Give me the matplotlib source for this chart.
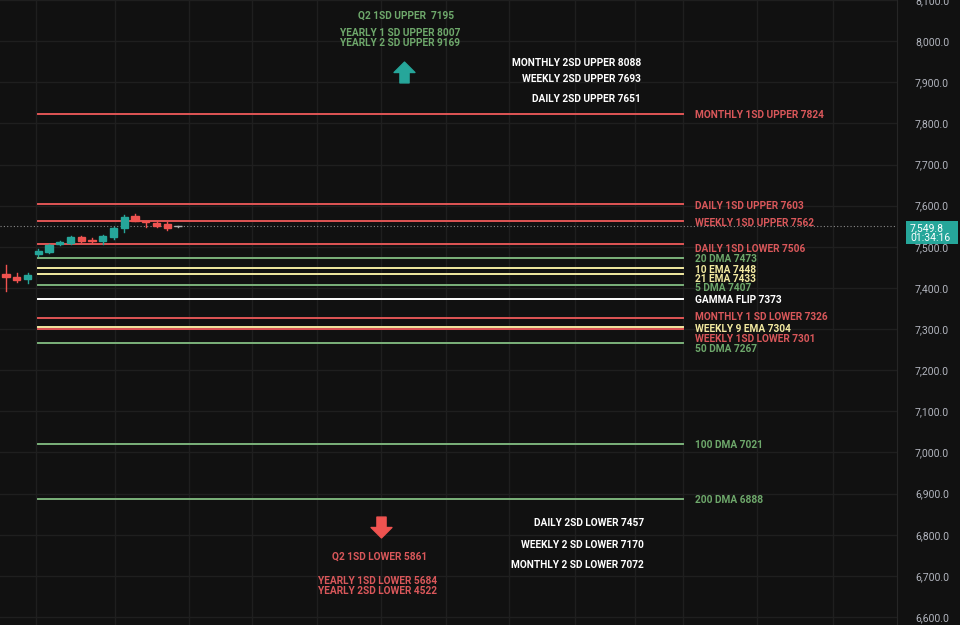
import matplotlib
matplotlib.use("Agg")
import matplotlib.pyplot as plt
from matplotlib.path import Path
from matplotlib.patches import Rectangle
from matplotlib.ticker import FuncFormatter

# candles (open, high, low, close)
opens = [7434, 7427, 7421, 7482, 7488, 7506, 7510, 7524, 7516, 7514, 7524, 7545, 7575, 7562, 7558, 7555, 7549.5]
highs = [7455, 7436, 7436, 7495, 7507, 7514, 7526, 7527, 7522, 7528, 7549, 7578, 7579, 7563, 7562, 7561, 7550]
lows = [7393, 7414, 7413, 7478, 7485, 7504, 7507, 7512, 7510, 7508, 7520, 7537, 7562, 7548, 7548, 7541, 7549]
closes = [7426, 7419, 7431, 7490, 7504, 7512, 7523, 7514, 7514, 7526, 7545, 7573, 7563, 7560, 7550, 7545, 7549.8]
last_price = 7549.8
timer = "01:34:16"

# key levels drawn as lines
level_names = ["MONTHLY 1SD UPPER", "DAILY 1SD UPPER", "WEEKLY 1SD UPPER", "DAILY 1SD LOWER",
               "20 DMA", "10 EMA", "21 EMA", "5 DMA", "GAMMA FLIP", "MONTHLY 1 SD LOWER",
               "WEEKLY 9 EMA", "WEEKLY 1SD LOWER", "50 DMA", "100 DMA", "200 DMA"]
level_values = [7824, 7603, 7562, 7506, 7473, 7448, 7433, 7407, 7373, 7326, 7304, 7301, 7267, 7021, 6888]
level_kinds = ["sd", "sd", "sd", "sd", "dma", "ema", "ema", "dma", "gamma", "sd",
               "ema", "sd", "dma", "dma", "dma"]

# floating notes
upper_notes = ["MONTHLY 2SD UPPER 8088", "WEEKLY 2SD UPPER 7693", "DAILY 2SD UPPER 7651"]
lower_notes = ["DAILY 2SD LOWER 7457", "WEEKLY 2 SD LOWER 7170", "MONTHLY 2 SD LOWER 7072"]
q2_upper = "Q2 1SD UPPER  7195"
yearly_upper = ["YEARLY 1 SD UPPER 8007", "YEARLY 2 SD UPPER 9169"]
q2_lower = "Q2 1SD LOWER 5861"
yearly_lower = ["YEARLY 1SD LOWER 5684", "YEARLY 2SD LOWER 4522"]

BG = "#111111"
GRID = "#1f1f1f"
RED = "#e05555"
RED_TXT = "#d9575a"
GREEN = "#7bb27a"
GREEN_TXT = "#6ea86b"
YELLOW = "#f2e9a0"
WHITE = "#ffffff"
UP = "#26a69a"
DOWN = "#ef5350"
kind_color = {"sd": RED, "dma": GREEN, "ema": YELLOW, "gamma": WHITE}
kind_text = {"sd": RED_TXT, "dma": GREEN_TXT, "ema": YELLOW, "gamma": WHITE}

# label nudges (price units) so stacked labels don't overlap
label_nudge = [0, 0, 0, -7, 0, 0, -7, -3, 0, 7, 0, -21, -11, 0, 0]

plt.rcParams['font.family'] = ['Roboto', 'DejaVu Sans']

fig = plt.figure(figsize=(9.6, 6.25), dpi=100, facecolor=BG)
ax = fig.add_axes([0, 0, 897 / 960, 1])
ax.set_facecolor(BG)

W = 960.0
H = 625.0
step = 10.75
x0 = -6 / step
ax.set_xlim(x0, x0 + 897 / step)
ax.set_ylim(6580.5, 8099.7)


def fx(px):
    return x0 + px / step


def fy(py):
    # pixel row -> axes fraction (small shift for cap-height centring)
    return 1 - (py + 1.5) / H


# grid
grid_x = [36, 115, 189, 252, 317, 381, 446, 509, 575, 635, 683, 757, 833]
ax.set_xticks([fx(p) for p in grid_x])
ax.set_yticks(range(6600, 8101, 100))
ax.grid(True, color=GRID, lw=1)
ax.set_axisbelow(True)
ax.tick_params(axis="x", length=0, labelbottom=False)
ax.yaxis.tick_right()
ax.tick_params(axis="y", length=0, pad=13, labelsize=7.5, labelcolor="#b2b5be")
ax.yaxis.set_major_formatter(FuncFormatter(lambda v, p: f"{v:,.1f}"))
for s in ["top", "bottom", "left"]:
    ax.spines[s].set_visible(False)
ax.spines["right"].set_color("#262626")

# level lines
line_start, line_end = 3, 63
for name, val, kind, nud in zip(level_names, level_values, level_kinds, label_nudge):
    ax.plot([line_start, line_end], [val, val], color=kind_color[kind], lw=1.4, zorder=2)
    ax.text(64.1, val + nud - 3.5, f"{name} {val}", color=kind_text[kind], fontsize=7.3,
            fontweight="bold", va="center", ha="left", zorder=3)

# current price line
ax.axhline(last_price, color="#8a8a8a", lw=0.8, ls=(0, (1, 2)), zorder=1)

# candles
for i, (o, h, l, c) in enumerate(zip(opens, highs, lows, closes)):
    if abs(c - o) < 1:
        col = "#b0b0b0"
    else:
        col = UP if c > o else DOWN
    ax.plot([i, i], [l, h], color=col, lw=1, zorder=4)
    lo, hi = min(o, c), max(o, c)
    ax.add_patch(Rectangle((i - 0.34, lo), 0.68, max(hi - lo, 1.2), color=col, zorder=5))

# arrows as markers
up_arrow = Path([(0, 0.5), (0.5, 0), (0.22, 0), (0.22, -0.5), (-0.22, -0.5), (-0.22, 0), (-0.5, 0), (0, 0.5)],
                [Path.MOVETO] + [Path.LINETO] * 6 + [Path.CLOSEPOLY])
down_arrow = Path([(0, -0.5), (0.5, 0), (0.22, 0), (0.22, 0.5), (-0.22, 0.5), (-0.22, 0), (-0.5, 0), (0, -0.5)],
                  [Path.MOVETO] + [Path.LINETO] * 6 + [Path.CLOSEPOLY])
ax.plot([404 / 897], [1 - 72 / H], marker=up_arrow, markersize=15, color=UP,
        transform=ax.transAxes, ls="none")
ax.plot([381 / 897], [1 - 527 / H], marker=down_arrow, markersize=15, color=DOWN,
        transform=ax.transAxes, ls="none")

txt = dict(fontsize=7.3, fontweight="bold", transform=ax.transAxes, va="center")
ax.text(406 / 897, fy(14), q2_upper, color=GREEN_TXT, ha="center", **txt)
for k, s in enumerate(yearly_upper):
    ax.text(400 / 897, fy(32 + 10 * k), s, color=GREEN_TXT, ha="center", **txt)
for s, py in zip(upper_notes, [61, 78, 98]):
    ax.text(641 / 897, fy(py), s, color=WHITE, ha="right", **txt)
for s, py in zip(lower_notes, [522, 544, 564]):
    ax.text(644 / 897, fy(py), s, color=WHITE, ha="right", **txt)
ax.text(380 / 897, fy(555), q2_lower, color=RED_TXT, ha="center", **txt)
for k, s in enumerate(yearly_lower):
    ax.text(378 / 897, fy(580 + 10 * k), s, color=RED_TXT, ha="center", **txt)

# price box on the axis
fig.patches.append(Rectangle((906 / W, 1 - 244 / H), 52 / W, 23 / H, transform=fig.transFigure,
                             facecolor=UP, edgecolor="none", zorder=5))
fig.text(910 / W, 1 - 228 / H, f"{last_price:,.1f}", color=WHITE, fontsize=7.5,
         va="center", ha="left", zorder=6)
fig.text(910 / W, 1 - 238.5 / H, timer, color=WHITE, fontsize=7.5,
         va="center", ha="left", zorder=6)

fig.savefig("out.png", dpi=100, facecolor=BG)
